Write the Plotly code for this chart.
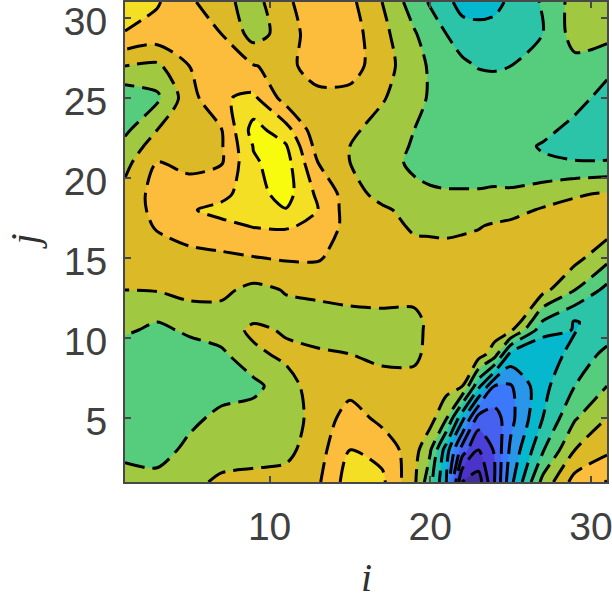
import plotly.graph_objects as go

i_values = [1, 3, 5, 7, 9, 11, 13, 15, 17, 19, 20, 21, 22, 23, 24, 25, 27, 29, 31]
j_values = [1, 3, 5, 7, 9, 10.5, 11, 13, 15, 17, 18, 19, 21, 22, 23, 25, 27, 29, 31]

row_j01 = [-1.2, -1.1, -0.8, -0.3, -0.2, -0.1, 0.35, 2.0, 1.7, -0.3, -2.2, -4.5, -9.6, -10, -7.5, -4.8, -1.2, 0.9, 1.55]
row_j03 = [-1.7, -2, -1.2, -1, -0.9, -0.8, 0.1, 1.5, 1.2, -0.1, -1.4, -4.0, -7, -8.5, -7.4, -5.3, -2.6, -0.5, 0.3]
row_j05 = [-2, -2, -1.8, -1.2, -1, -0.9, -0.2, 1.0, 0.2, 0, -0.1, -1.4, -4.2, -6.9, -7, -5.8, -3.5, -1.6, -0.5]
row_j07 = [-2, -2, -2, -2, -1.8, -0.9, 0, 0.1, 0, 0, 0, -0.1, -0.5, -3.2, -5.5, -5.6, -3.8, -2.5, -1.5]
row_j09 = [-2, -2, -1.9, -1.7, -0.7, -0.3, -0.3, -0.5, -0.8, -0.8, -0.1, 0, 0, 0, -1.0, -3.8, -4.4, -3.0, -2.3]
row_j10 = [-1.35, -1.7, -1.35, -1.0, -0.3, -0.6, -1.1, -1.0, -1.0, -1.0, -0.1, 0, 0, 0, 0, -0.3, -3.1, -3.55, -2.9]
row_j11 = [-1.2, -1.5, -1.1, -0.9, -0.55, -0.8, -0.9, -0.8, -0.8, -0.9, -0.2, 0, 0, 0, 0, 0.4, -2.6, -3.6, -2.9]
row_j13 = [-0.5, -0.45, -0.2, -0.3, -0.75, -0.45, -0.3, -0.2, -0.1, 0, 0, 0, 0, 0, 0, 0, -0.2, -1.5, -2.8]
row_j15 = [-0.1, 0, 0.2, 0.3, 0.45, 0.6, 0.6, 0, -0.1, -0.1, -0.1, -0.1, -0.1, -0.1, -0.1, -0.1, -0.1, -0.2, -1.2]
row_j17 = [-0.1, 0.6, 1.0, 1.25, 1.55, 1.6, 1.3, 0.1, -0.1, -0.65, -0.7, -0.75, -0.65, -0.55, -0.4, -0.3, 0, 0.1, 0]
row_j18 = [-0.1, 0.8, 1.4, 1.8, 2.0, 2.45, 1.5, 0, -0.3, -0.9, -1.0, -1.1, -1.1, -1.0, -0.9, -0.8, -0.4, -0.2, -0.2]
row_j19 = [-0.2, 0.9, 1.0, 1.2, 2.1, 2.9, 1.3, 0, -0.9, -1.25, -1.35, -1.4, -1.4, -1.4, -1.35, -1.35, -1.0, -0.6, -0.4]
row_j21 = [-0.8, 0.5, 0.2, 0.4, 2.4, 2.9, 0.5, -0.5, -1.1, -1.7, -1.9, -2, -2, -2, -2, -2.1, -2.35, -2.45, -2.45]
row_j22 = [-1.2, 0, 0, 0.4, 2.55, 2.6, 0.1, -0.5, -1.0, -1.6, -1.9, -2, -2, -2, -2, -2.1, -2.6, -2.9, -2.9]
row_j23 = [-1.7, -0.5, 0.1, 0.45, 2.9, 1.9, -0.2, -0.3, -0.9, -1.5, -1.8, -2, -2, -2, -2, -2, -2.2, -2.85, -3.1]
row_j25 = [-2.2, -1.7, 0.1, 1.4, 1.7, 0.1, 0.2, 0.2, -0.4, -1.2, -1.6, -1.9, -2, -2, -2, -2, -2.1, -2.1, -2.9]
row_j27 = [-0.5, -0.7, 0.5, 1.0, 0.55, 0.2, 1.0, 0.9, 0, -1.2, -1.6, -2.0, -2.3, -2.55, -2.6, -2.5, -2.0, -1.8, -2.2]
row_j29 = [1.45, 1.1, 1.0, 0.5, -0.9, -0.1, 1.2, 1.0, -0.2, -1.4, -2.0, -2.5, -3.0, -3.1, -3.1, -3.0, -2.5, -1.1, -1.2]
row_j31 = [2.0, 1.6, 0.7, -0.2, -0.9, 0.35, 1.0, 0.75, -0.5, -2.0, -2.6, -3.2, -3.9, -4.0, -3.8, -3.3, -2.4, -1.1, -0.8]

field = [row_j01, row_j03, row_j05, row_j07, row_j09, row_j10, row_j11, row_j13, row_j15, row_j17,
         row_j18, row_j19, row_j21, row_j22, row_j23, row_j25, row_j27, row_j29, row_j31]

band_colors = ["#432c9e", "#4a33c8", "#4a3fd6", "#4660f0", "#3c78fb", "#2a96ea", "#05b8cd", "#2bc4a9",
               "#55cd7d", "#a0c840", "#dcb927", "#fdbd3c", "#f5df24", "#f9fb0e"]
x_ticks = [10, 20, 30]
y_ticks = [5, 10, 15, 20, 25, 30]

n = len(band_colors) - 1
scale = [[k / n, c] for k, c in enumerate(band_colors)]

fig = go.Figure(go.Contour(
    x=i_values, y=j_values, z=field,
    colorscale=scale, showscale=False, autocontour=False,
    contours=dict(start=-9.5, end=2.5, size=1, coloring="fill"),
    line=dict(color="black", width=3, dash="20px,8px", smoothing=0.8),
))
ax = dict(range=[1, 31], showgrid=False, zeroline=False, showline=True, mirror="ticks", automargin=False,
          linecolor="#484848", linewidth=2, ticks="inside", ticklen=6, tickcolor="#484848", tickwidth=1.5,
          ticklabeloverflow="allow",
          tickfont=dict(family="Liberation Sans", size=39, color="#404040"))
fig.update_xaxes(**ax, tickvals=x_ticks, ticktext=[str(v) for v in x_ticks], ticklabelstandoff=9)
fig.update_yaxes(**ax, tickvals=y_ticks, ticktext=[str(v) for v in y_ticks], ticklabelstandoff=8, ticklabelshift=3)
label_font = dict(family="Liberation Serif", size=40, color="#303030")
fig.add_annotation(text="<i>i</i>", xref="paper", yref="paper", x=0.5, y=0, yshift=-120, showarrow=False, font=label_font)
fig.add_annotation(text="<i>j</i>", xref="paper", yref="paper", x=0, y=0.5, xshift=-126, showarrow=False,
                   textangle=-90, font=label_font)
fig.update_layout(width=612, height=600, margin=dict(l=125, r=5, t=2, b=118),
                  plot_bgcolor="white", paper_bgcolor="white")
fig.write_html("out.html", post_script="document.body.style.margin='0';",
               config=dict(displayModeBar=False))
